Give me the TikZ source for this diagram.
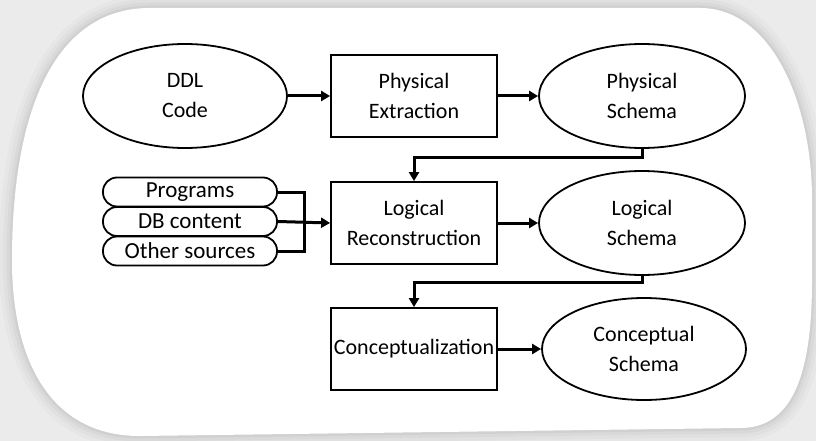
\documentclass[tikz,border=0pt]{standalone}
\usepackage{fontspec}
\setmainfont{Carlito}
\usetikzlibrary{arrows.meta,shapes.geometric}
\definecolor{bgray}{HTML}{EBEBEB}
\definecolor{sgray}{HTML}{BDBDBD}
\tikzset{
  lbl/.style={font=\fontsize{22}{30}\selectfont, align=center, text=black},
  oval/.style={lbl, draw, line width=1.8pt, ellipse, inner sep=0pt, minimum width=204pt, minimum height=104pt},
  proc/.style={lbl, draw, line width=1.8pt, rectangle, inner sep=0pt, minimum width=166pt, minimum height=82pt},
  pill/.style={lbl, font=\fontsize{23}{26}\selectfont, draw, line width=1.8pt, rectangle, rounded corners=14pt, inner sep=0pt, minimum width=174pt, minimum height=29pt},
  flow/.style={line width=3pt, -{Triangle[length=9pt,width=10pt]}},
  link/.style={line width=3pt},
}
\begin{document}
\begin{tikzpicture}[x=1pt,y=-1pt]
\useasboundingbox (0,0) rectangle (816,441);
\fill[bgray] (0,0) rectangle (816,441);
\def\bgshape{(12,260) .. controls (12,120) and (50,8) .. (150,8) -- (700,8) .. controls (770,8) and (812,100) .. (812,200) -- (812,280) .. controls (812,380) and (790,428) .. (740,428) -- (140,436) .. controls (50,436) and (12,360) .. (12,260) -- cycle}
\foreach \w/\o in {26/0.10,18/0.14,11/0.2,5/0.3}{
  \draw[sgray, line width=\w pt, opacity=\o, line join=round] \bgshape;
}
\fill[white] \bgshape;

\node[oval] (ddl) at (185,96) {DDL\\Code};
\node[proc] (pe) at (414,96) {Physical\\Extraction};
\node[oval, minimum width=206pt] (ps) at (642,96) {Physical\\Schema};

\node[pill] (prog) at (190,192) {Programs};
\node[pill] (db) at (190,221.5) {DB content};
\node[pill] (oth) at (190,251) {Other sources};
\node[proc] (lr) at (414,223) {Logical\\Reconstruction};
\node[oval, minimum width=206pt] (ls) at (642,223) {Logical\\Schema};

\node[proc] (cz) at (414,349) {Conceptualization};
\node[oval, minimum height=102pt] (cs) at (644,349) {Conceptual\\Schema};

\coordinate (bx) at (304,221.5);

\draw[flow] (ddl.east) -- (pe.west);
\draw[flow] (pe.east) -- (ps.west);
\draw[flow] (ps.south) -- ++(0,9) -| (lr.north);
\draw[link] (prog.east) -| (bx) |- (oth.east);
\draw[flow] (db.east) -- (lr.west);
\draw[flow] (lr.east) -- (ls.west);
\draw[flow] (ls.south) -- ++(0,7) -| (cz.north);
\draw[flow] (cz.east) -- (cs.west);
\end{tikzpicture}
\end{document}
